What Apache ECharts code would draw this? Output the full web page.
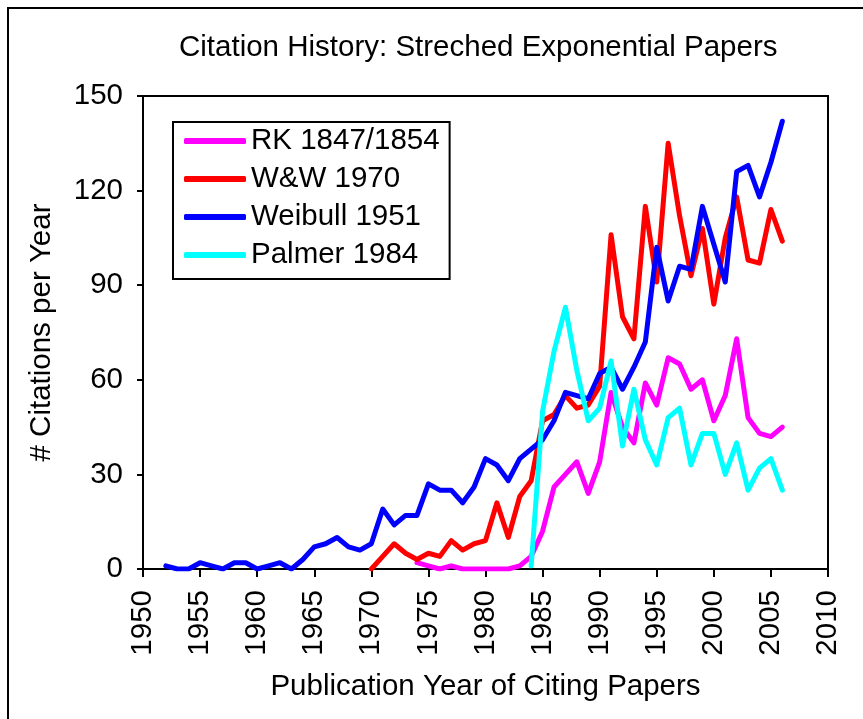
<!DOCTYPE html>
<html>
<head>
<meta charset="utf-8">
<script src="https://cdn.jsdelivr.net/npm/echarts@6/dist/echarts.min.js"></script>
<style>
  html, body { margin: 0; padding: 0; background: #fff; }
  #chart { width: 863px; height: 719px; }
</style>
</head>
<body>
<div id="chart"></div>
<script>
// data
var xTicks = [1950, 1955, 1960, 1965, 1970, 1975, 1980, 1985, 1990, 1995, 2000, 2005, 2010]
var yTicks = [0, 30, 60, 90, 120, 150]

var rkStart = 1974
var rkValues = [2, 1, 0, 1, 0, 0, 0, 0, 0, 1, 4, 12, 26, 30, 34, 24, 34, 56, 45, 40, 59, 52, 67, 65, 57, 60, 47, 55, 73, 48, 43, 42, 45]

var wwStart = 1970
var wwValues = [0, 4, 8, 5, 3, 5, 4, 9, 6, 8, 9, 21, 10, 23, 28, 47, 49, 55, 51, 52, 58, 106, 80, 73, 115, 91, 135, 112, 93, 108, 84, 105, 118, 98, 97, 114, 104]

var weibullStart = 1952
var weibullValues = [1, 0, 0, 2, 1, 0, 2, 2, 0, 1, 2, 0, 3, 7, 8, 10, 7, 6, 8, 19, 14, 17, 17, 27, 25, 25, 21, 26, 35, 33, 28, 35, 38, 41, 47, 56, 55, 54, 62, 64, 57, 64, 72, 102, 85, 96, 95, 115, 103, 91, 126, 128, 118, 129, 142]

var palmerStart = 1984
var palmerValues = [1, 50, 69, 83, 63, 47, 51, 66, 39, 57, 41, 33, 48, 51, 33, 43, 43, 30, 40, 25, 32, 35, 25]

var FONT = 'Liberation Sans, Arial, sans-serif'
var FS = 29.5

function pairs (start, values) {
  return values.map(function (v, i) { return [start + i, v] })
}

function lineSeries (name, color, start, values) {
  return {
    name: name,
    type: 'line',
    data: pairs(start, values),
    showSymbol: false,
    symbol: 'none',
    lineStyle: { color: color, width: 5, join: 'round', cap: 'round' },
    itemStyle: { color: color },
    emphasis: { disabled: true }
  }
}

var chart = echarts.init(document.getElementById('chart'))
chart.setOption({
  animation: false,
  backgroundColor: '#fff',
  graphic: [{
    type: 'rect',
    shape: { x: 8, y: 8, width: 900, height: 800 },
    style: { fill: 'none', stroke: '#000', lineWidth: 2 },
    silent: true
  }],
  title: {
    text: 'Citation History: Streched Exponential Papers',
    left: 179,
    top: 33,
    padding: 0,
    textStyle: { fontFamily: FONT, fontSize: FS, fontWeight: 'normal', color: '#000' }
  },
  legend: {
    orient: 'vertical',
    left: 173,
    top: 122,
    padding: [4, 10, 9, 11],
    borderColor: '#000',
    borderWidth: 2,
    itemWidth: 62,
    itemHeight: 6,
    itemGap: 8,
    icon: 'roundRect',
    textStyle: { fontFamily: FONT, fontSize: FS, color: '#000', lineHeight: 30 },
    data: ['RK 1847/1854', 'W&W 1970', 'Weibull 1951', 'Palmer 1984']
  },
  grid: {
    left: 143,
    right: 35,
    top: 96,
    bottom: 150,
    show: true,
    borderColor: '#000',
    borderWidth: 2,
    containLabel: false
  },
  xAxis: {
    type: 'value',
    min: xTicks[0],
    max: xTicks[xTicks.length - 1],
    interval: 5,
    name: 'Publication Year of Citing Papers',
    nameLocation: 'middle',
    nameGap: 103,
    nameTextStyle: { fontFamily: FONT, fontSize: FS, color: '#000' },
    axisLine: { lineStyle: { color: '#000', width: 2 } },
    axisTick: { show: true, inside: false, length: 8, lineStyle: { color: '#000', width: 2 } },
    axisLabel: {
      rotate: 90,
      margin: 21,
      fontFamily: FONT,
      fontSize: FS,
      color: '#000',
      formatter: function (v) { return String(v) }
    },
    splitLine: { show: false }
  },
  yAxis: {
    type: 'value',
    min: yTicks[0],
    max: yTicks[yTicks.length - 1],
    interval: 30,
    name: '# Citations per Year',
    nameLocation: 'middle',
    nameGap: 86,
    nameTextStyle: { fontFamily: FONT, fontSize: FS, color: '#000' },
    axisLine: { show: true, lineStyle: { color: '#000', width: 2 } },
    axisTick: { show: true, inside: false, length: 6, lineStyle: { color: '#000', width: 2 } },
    axisLabel: { margin: 20, fontFamily: FONT, fontSize: FS, color: '#000' },
    splitLine: { show: false }
  },
  series: [
    lineSeries('RK 1847/1854', '#ff00ff', rkStart, rkValues),
    lineSeries('W&W 1970', '#ff0000', wwStart, wwValues),
    lineSeries('Weibull 1951', '#0000ff', weibullStart, weibullValues),
    lineSeries('Palmer 1984', '#00ffff', palmerStart, palmerValues)
  ]
})
</script>
</body>
</html>
